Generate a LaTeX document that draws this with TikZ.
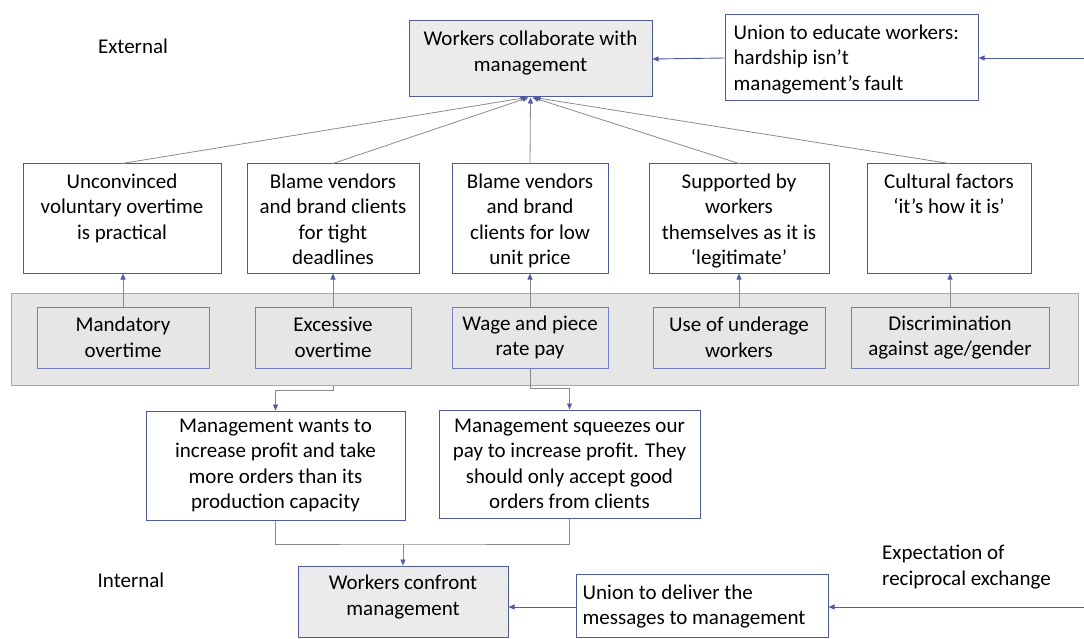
\documentclass[tikz,border=0pt]{standalone}
\usepackage{fontspec}
\setmainfont{Carlito}
\usetikzlibrary{arrows.meta}
\definecolor{bord}{HTML}{4E5A9A}
\definecolor{ibord}{HTML}{767ECC}
\definecolor{tipblue}{HTML}{4F5BA0}
\definecolor{gline}{HTML}{8A8A8A}
\definecolor{gfill}{HTML}{EBEBEB}
\definecolor{bandfill}{HTML}{E6E6E6}
\definecolor{bandbord}{HTML}{A8A8A8}
\begin{document}
\begin{tikzpicture}[x=1pt,y=-1pt,
  box/.style={draw=bord, line width=1pt, fill=white, inner sep=0pt, font=\fontsize{21}{25.5}\selectfont, align=center},
  gbox/.style={box, fill=gfill},
  band/.style={draw=bandbord, line width=1pt, fill=bandfill, inner sep=0pt},
  ibox/.style={draw=ibord, line width=1pt, fill=bandfill, inner sep=0pt, font=\fontsize{21}{25.5}\selectfont, align=center},
  txt/.style={font=\fontsize{21}{25.5}\selectfont, inner sep=0pt, align=center},
  tipb/.style={-{Triangle[length=6pt,width=5pt,color=tipblue]}},
  garrow/.style={draw=gline, line width=0.8pt, tipb},
  glineonly/.style={draw=gline, line width=0.8pt},
  barrow/.style={draw=tipblue, line width=0.9pt, tipb}
]
\useasboundingbox (0,0) rectangle (1084,639);

% top
\node[gbox, minimum width=243pt, minimum height=76pt] (top) at (530.5,59) {};
\node[txt] (topt) at (530.5,53) {Workers collaborate with\\management};
\node[box, minimum width=253pt, minimum height=86pt] (uedu) at (851.5,58) {};
\node[txt, anchor=north west, align=left] (uedut) at ([xshift=9pt,yshift=-10pt]uedu.north west) {Union to educate workers:\\hardship isn’t\\management’s fault};
\coordinate (ein) at (1084,58);
\draw[barrow] (ein) -- (uedu.east);
\draw[barrow] (uedu.west) -- (top.east);

\node[txt] (ext) at (133,46) {External};
\node[txt] (int) at (131,580) {Internal};

% row boxes
\node[box, minimum width=198pt, minimum height=109pt] (r1) at (122,218.5) {};
\node[txt, anchor=north] (r1t) at ([yshift=-10pt]r1.north) {Unconvinced\\voluntary overtime\\is practical};
\node[box, minimum width=172pt, minimum height=109pt] (r2) at (333,218.5) {};
\node[txt, anchor=north] (r2t) at ([yshift=-10pt]r2.north) {Blame vendors\\and brand clients\\for tight\\deadlines};
\node[box, minimum width=156pt, minimum height=109pt] (r3) at (530,218.5) {};
\node[txt, anchor=north] (r3t) at ([yshift=-10pt]r3.north) {Blame vendors\\and brand\\clients for low\\unit price};
\node[box, minimum width=180pt, minimum height=109pt] (r4) at (739,218.5) {};
\node[txt, anchor=north] (r4t) at ([yshift=-10pt]r4.north) {Supported by\\workers\\themselves as it is\\‘legitimate’};
\node[box, minimum width=164pt, minimum height=109pt] (r5) at (949,218.5) {};
\node[txt, anchor=north] (r5t) at ([yshift=-10pt]r5.north) {Cultural factors\\‘it’s how it is’};

\draw[garrow] (r1.north) -- ([xshift=-4pt]top.south);
\draw[garrow] (r2.north) -- ([xshift=-2pt]top.south);
\draw[garrow] (r3.north) -- (top.south);
\draw[garrow] (r4.north) -- ([xshift=2pt]top.south);
\draw[garrow] (r5.north) -- ([xshift=4pt]top.south);

% band
\node[band, minimum width=1067pt, minimum height=92pt] (band) at (544.5,339) {};
\node[ibox, minimum width=172pt, minimum height=61pt] (i1) at (123,337.5) {Mandatory\\overtime};
\node[ibox, minimum width=156pt, minimum height=61pt] (i2) at (333,337.5) {Excessive\\overtime};
\node[ibox, minimum width=156pt, minimum height=61pt] (i3) at (530,337.5) {Wage and piece\\rate pay};
\node[ibox, minimum width=172pt, minimum height=61pt] (i4) at (739,337.5) {Use of underage\\workers};
\node[ibox, minimum width=198pt, minimum height=61pt] (i5) at (950,337.5) {Discrimination\\against age/gender};

\draw[garrow] (i1.north) -- (i1.north |- r1.south);
\draw[garrow] (i2.north) -- (r2.south);
\draw[garrow] (i3.north) -- (r3.south);
\draw[garrow] (i4.north) -- (r4.south);
\draw[garrow] (i5.north) -- (i5.north |- r5.south);

% bottom boxes
\node[box, minimum width=259pt, minimum height=109pt] (bl) at (275.5,465.5) {Management wants to\\increase profit and take\\more orders than its\\production capacity};
\node[box, minimum width=261pt, minimum height=108pt] (br) at (569.5,464) {Management squeezes our\\pay to increase profit. They\\should only accept good\\orders from clients};

\draw[garrow] (i2.south |- band.south) -- ++(0,5) -| (bl.north);
\draw[garrow] (i3.south) -- ++(0,20) -| (br.north);

% confront
\node[gbox, minimum width=210pt, minimum height=71pt] (conf) at (403,601.5) {};
\node[txt] (conft) at (403,597) {Workers confront\\management};
\coordinate (j) at (403,544);
\draw[glineonly] (bl.south) |- (j) -| (br.south);
\draw[garrow] (j) -- (conf.north);

\node[box, minimum width=252pt, minimum height=63pt] (udel) at (702,605.5) {};
\node[txt, anchor=north west, align=left] (udelt) at ([xshift=7pt,yshift=-11pt]udel.north west) {Union to deliver the\\messages to management};
\coordinate (ein2) at (1084,607);
\draw[barrow] (ein2) -- (udel.east |- ein2);
\draw[barrow] (udel.west |- ein2) -- (conf.east |- ein2);

\node[txt, anchor=north west, align=left] (expt) at (882,545) {Expectation of\\reciprocal exchange};
\end{tikzpicture}
\end{document}
